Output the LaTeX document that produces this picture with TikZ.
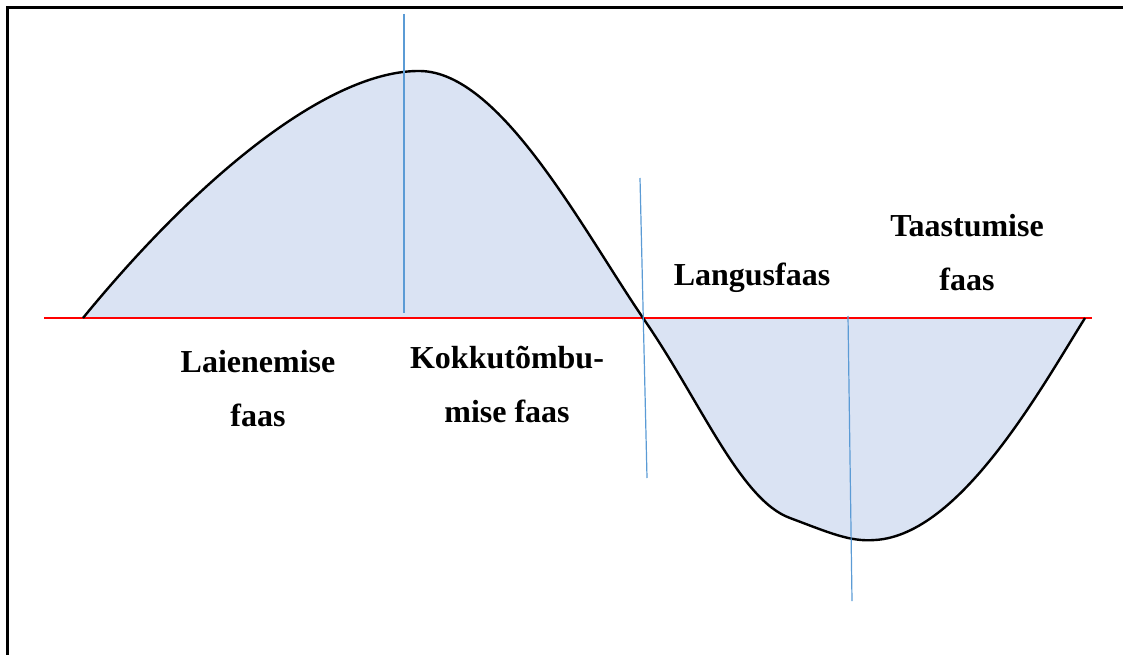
\documentclass[tikz,border=0pt]{standalone}
\usepackage{fontspec}
\setmainfont{Liberation Serif}
\definecolor{phasefill}{HTML}{DAE3F3}
\definecolor{phaseline}{HTML}{5B9BD5}
\tikzset{
  phase/.style={font=\bfseries\fontsize{32}{54}\selectfont, align=center, anchor=base, inner sep=0pt},
  divider/.style={phaseline, line width=1.2pt}
}

\begin{document}
\begin{tikzpicture}[x=1pt,y=-1pt]
  \useasboundingbox (0,0) rectangle (1123,655);
  % Frame (left and top edge).
  \draw[line width=3pt] (7.5,655) -- (7.5,8) -- (1123,8);
  % The cycle: area between curve and axis.
  \fill[phasefill]
    (83,318) .. controls (200,175) and (330,70) .. (420,71)
             .. controls (500,72) and (580,225) .. (643,318)
             .. controls (700,400) and (740,500) .. (790,518)
             .. controls (830,533) and (850,542) .. (875,540)
             .. controls (960,535) and (1040,390) .. (1085,318) -- cycle;
  % Axis.
  \draw[red, line width=1.2pt] (44,318) -- (1092,318);
  % The curve.
  \draw[line width=2.4pt]
    (83,318) .. controls (200,175) and (330,70) .. (420,71)
             .. controls (500,72) and (580,225) .. (643,318)
             .. controls (700,400) and (740,500) .. (790,518)
             .. controls (830,533) and (850,542) .. (875,540)
             .. controls (960,535) and (1040,390) .. (1085,318);
  % Dividers between the phases.
  \coordinate (peak top) at (404,14);
  \coordinate (peak bottom) at (404,313);
  \coordinate (cross top) at (640,178);
  \coordinate (cross bottom) at (647,478);
  \coordinate (trough top) at (848,316);
  \coordinate (trough bottom) at (852,601);
  \draw[divider] (peak top) -- (peak bottom);
  \draw[divider] (cross top) -- (cross bottom);
  \draw[divider] (trough top) -- (trough bottom);
  % Phase labels (base = last line).
  \node[phase] (expansion) at (258,426) {Laienemise\\faas};
  \node[phase] (contraction) at (507,422) {Kokkutõmbu-\\mise faas};
  \node[phase] (decline) at (752,285) {Langusfaas};
  \node[phase] (recovery) at (967,290) {Taastumise\\faas};
\end{tikzpicture}
\end{document}
